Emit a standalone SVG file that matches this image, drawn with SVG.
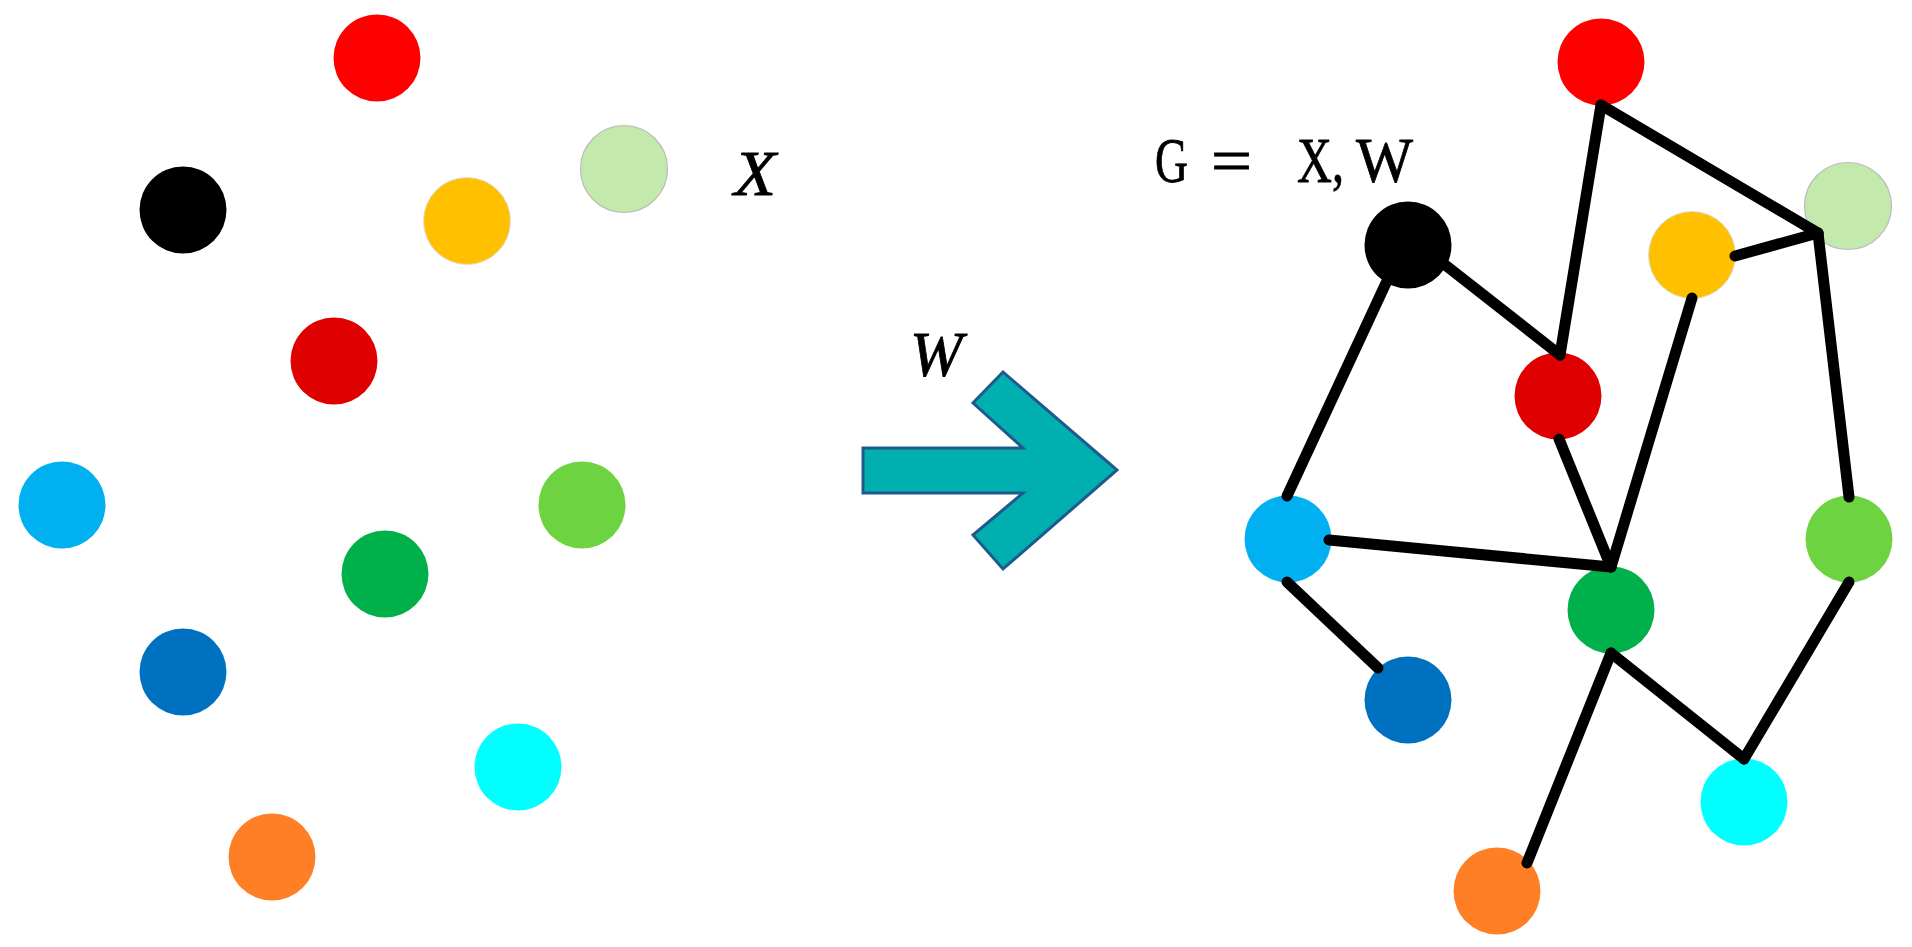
<svg xmlns="http://www.w3.org/2000/svg" width="1912" height="947" viewBox="0 0 1912 947">
<style>
.e{stroke:#000;stroke-width:11;stroke-linecap:round;fill:none}
.lbl{font-family:"Liberation Serif",serif;font-size:63px;fill:#000;stroke:#000;stroke-width:0.8}
.it{font-style:italic}
</style>
<rect width="1912" height="947" fill="#fff"/>
<g id="left-nodes">
<g id="L-red"><circle cx="377" cy="58" r="43.5" fill="#FF0000"/></g>
<g id="L-black"><circle cx="183" cy="210" r="43.5" fill="#000000"/></g>
<g id="L-yellow"><circle cx="467" cy="221" r="43.5" fill="#FFC000" stroke="#ddd" stroke-width="1"/></g>
<g id="L-lightgreen"><circle cx="624" cy="169" r="43.5" fill="#C4E9AD" stroke="#bbb" stroke-width="1.2"/></g>
<g id="L-darkred"><circle cx="334" cy="361" r="43.5" fill="#DF0000"/></g>
<g id="L-skyblue"><circle cx="62" cy="505" r="43.5" fill="#00B0F0"/></g>
<g id="L-lime"><circle cx="582" cy="505" r="43.5" fill="#6DD341"/></g>
<g id="L-green"><circle cx="385" cy="574" r="43.5" fill="#00B04A"/></g>
<g id="L-blue"><circle cx="183" cy="672" r="43.5" fill="#0070C0"/></g>
<g id="L-cyan"><circle cx="518" cy="767" r="43.5" fill="#00FFFF"/></g>
<g id="L-orange"><circle cx="272" cy="857" r="43.5" fill="#FF7F27"/></g>
</g>
<g id="label-X"><text class="lbl it" x="734" y="195" textLength="42" lengthAdjust="spacingAndGlyphs">X</text></g>
<g id="label-W"><text class="lbl it" x="910" y="376">W</text></g>
<g id="arrow"><polygon points="863,448 1023,448 973,403 1003,372 1117,470 1003,569 973,535 1023,493 863,493" fill="#00AFAF" stroke="#1F5A8C" stroke-width="3" stroke-linejoin="miter"/></g>
<g id="label-G">
<text class="lbl" x="1155" y="182" textLength="33" lengthAdjust="spacingAndGlyphs">G</text>
<text class="lbl" x="1211" y="182" textLength="41" lengthAdjust="spacingAndGlyphs">=</text>
<text class="lbl" x="1297" y="182" textLength="47" lengthAdjust="spacingAndGlyphs">X,</text>
<text class="lbl" x="1356" y="182" textLength="57" lengthAdjust="spacingAndGlyphs">W</text>
</g>
<g id="right-nodes">
<g id="R-red"><circle cx="1601" cy="62" r="43.5" fill="#FF0000"/></g>
<g id="R-lightgreen"><circle cx="1848" cy="206" r="43.5" fill="#C4E9AD" stroke="#bbb" stroke-width="1.2"/></g>
<g id="R-yellow"><circle cx="1692" cy="255" r="43.5" fill="#FFC000" stroke="#ddd" stroke-width="1"/></g>
<g id="R-black"><circle cx="1408" cy="245" r="43.5" fill="#000000"/></g>
<g id="R-darkred"><circle cx="1558" cy="396" r="43.5" fill="#DF0000"/></g>
<g id="R-skyblue"><circle cx="1288" cy="539" r="43.5" fill="#00B0F0"/></g>
<g id="R-lime"><circle cx="1849" cy="539" r="43.5" fill="#6DD341"/></g>
<g id="R-green"><circle cx="1611" cy="610" r="43.5" fill="#00B04A"/></g>
<g id="R-blue"><circle cx="1408" cy="700" r="43.5" fill="#0070C0"/></g>
<g id="R-cyan"><circle cx="1744" cy="802" r="43.5" fill="#00FFFF"/></g>
<g id="R-orange"><circle cx="1497" cy="891" r="43.5" fill="#FF7F27"/></g>
</g>
<g id="connectors">
<line class="e" x1="1601" y1="105" x2="1560" y2="355"/>
<line class="e" x1="1601" y1="105" x2="1818" y2="233"/>
<line class="e" x1="1818" y1="233" x2="1735" y2="256"/>
<line class="e" x1="1818" y1="233" x2="1849" y2="497"/>
<line class="e" x1="1444" y1="264" x2="1560" y2="355"/>
<line class="e" x1="1386" y1="283" x2="1287" y2="496"/>
<line class="e" x1="1692" y1="298" x2="1611" y2="567"/>
<line class="e" x1="1559" y1="439" x2="1611" y2="567"/>
<line class="e" x1="1329" y1="540" x2="1611" y2="567"/>
<line class="e" x1="1287" y1="582" x2="1378" y2="668"/>
<line class="e" x1="1611" y1="653" x2="1527" y2="863"/>
<line class="e" x1="1611" y1="653" x2="1744" y2="759"/>
<line class="e" x1="1849" y1="582" x2="1744" y2="759"/>
</g>
</svg>
